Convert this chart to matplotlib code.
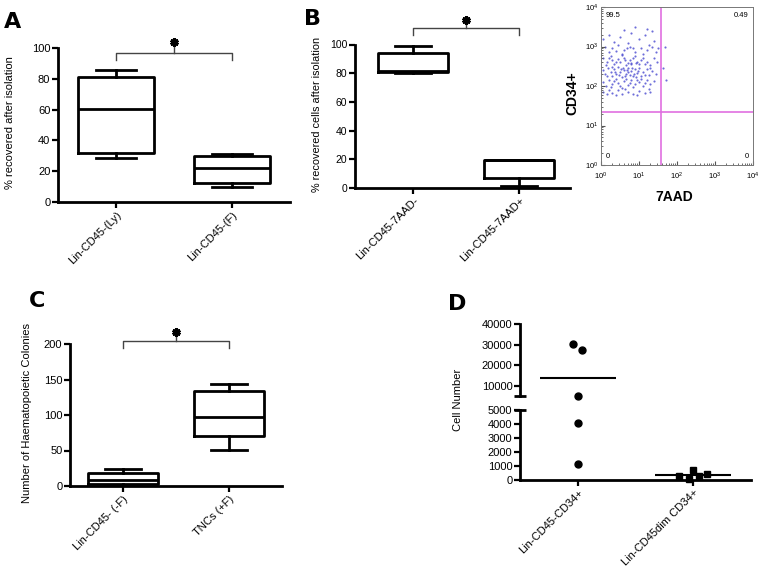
import numpy as np
import matplotlib
matplotlib.use("Agg")
import matplotlib.pyplot as plt

plt.rcParams['font.family'] = ['Liberation Sans', 'DejaVu Sans']

W, H = 762, 573

# panel A
a_labels = ["Lin-CD45-(Ly)", "Lin-CD45-(F)"]
a_whislo = [28.5, 10]
a_q1 = [32, 12.5]
a_med = [60.4, 22.3]
a_q3 = [81, 30]
a_whishi = [85.5, 31.4]

# panel B
b_labels = ["Lin-CD45-7AAD-", "Lin-CD45-7AAD+"]
b_whislo = [80, 1.4]
b_q1 = [81, 6.9]
b_med = [81.5, 19.3]
b_q3 = [94, 19.3]
b_whishi = [99, 19.5]

# panel C
c_labels = ["Lin-CD45- (-F)", "TNCs (+F)"]
c_whislo = [0, 51]
c_q1 = [2.4, 70.4]
c_med = [8, 96.7]
c_q3 = [18.7, 134]
c_whishi = [24, 143.7]

# panel D
d_labels = ["Lin-CD45-CD34+", "Lin-CD45dim CD34+"]
d1_vals = [30500, 27400, 5200, 4050, 1160]
d2_vals = [290, 710, 40, 270, 450]

# flow plot (log10 of 7AAD, log10 of CD34)
aad_log = [0.9, 1.2, 0.6, 1.35,
           0.2, 0.5, 0.8, 1.0, 1.15, 1.4, 0.35, 0.7, 1.25, 0.05,
           0.1, 0.3, 0.45, 0.6, 0.75, 0.9, 1.05, 1.2, 1.35, 1.45, 0.2, 0.55, 0.85, 1.1, 0.4, 0.68, 1.5,
           0.05, 0.15, 0.25, 0.35, 0.45, 0.5, 0.6, 0.65, 0.75, 0.8, 0.9, 0.95, 1.0, 1.1, 1.2, 1.3, 1.4,
           0.3, 0.55, 0.7, 0.85, 1.05, 0.12, 0.4, 0.62, 0.78, 0.92, 1.15, 1.48, 0.22,
           0.05, 0.1, 0.18, 0.25, 0.3, 0.35, 0.4, 0.45, 0.5, 0.55, 0.6, 0.65, 0.7, 0.75, 0.8, 0.85,
           0.9, 0.95, 1.0, 1.05, 1.1, 1.2, 1.25, 1.35, 1.45, 0.28, 0.48, 0.58, 0.72, 0.88, 0.98,
           0.15, 0.38, 0.62, 0.82, 1.15, 0.52, 0.68, 0.92, 1.3,
           0.05, 0.12, 0.2, 0.3, 0.4, 0.5, 0.6, 0.7, 0.8, 0.9, 1.0, 1.1, 1.2, 1.3, 1.4,
           0.25, 0.45, 0.65, 0.85, 1.05, 0.35, 0.75, 0.95, 0.55, 1.15,
           0.05, 0.15, 0.3, 0.45, 0.55, 0.7, 0.85, 1.0, 1.15, 1.3, 0.2, 0.62, 0.95, 1.25, 0.4,
           1.68, 1.72, 1.62]
cd34_log = [3.5, 3.45, 3.42, 3.38,
            3.3, 3.25, 3.35, 3.2, 3.3, 3.15, 3.12, 3.1, 3.05, 3.2,
            3.0, 2.95, 3.05, 2.9, 3.0, 2.85, 2.95, 2.9, 3.0, 2.85, 2.85, 2.82, 2.95, 2.82, 2.88, 2.97, 2.95,
            2.7, 2.6, 2.75, 2.55, 2.68, 2.6, 2.72, 2.52, 2.65, 2.58, 2.75, 2.62, 2.55, 2.7, 2.6, 2.52, 2.7,
            2.65, 2.78, 2.58, 2.7, 2.65, 2.52, 2.62, 2.66, 2.55, 2.58, 2.55, 2.6, 2.72,
            2.4, 2.3, 2.45, 2.35, 2.25, 2.42, 2.3, 2.48, 2.35, 2.22, 2.4, 2.3, 2.45, 2.28, 2.38, 2.25,
            2.42, 2.32, 2.45, 2.25, 2.35, 2.42, 2.28, 2.38, 2.3, 2.48, 2.28, 2.45, 2.35, 2.3, 2.38,
            2.25, 2.36, 2.26, 2.46, 2.28, 2.42, 2.4, 2.22, 2.45,
            2.1, 2.0, 2.15, 2.05, 2.18, 2.0, 2.12, 2.02, 2.15, 2.05, 2.1, 2.0, 2.15, 2.05, 2.12,
            1.98, 2.08, 2.18, 1.98, 2.18, 2.12, 2.08, 2.15, 1.96, 2.08,
            1.85, 1.8, 1.82, 1.9, 1.8, 1.85, 1.8, 1.88, 1.82, 1.85, 1.9, 1.92, 1.78, 1.92, 1.78,
            2.99, 2.15, 2.45]
gate_x = 38
gate_y = 22
quadrants = ["99.5", "0.49", "0", "0"]


def px_axes(l, t, r, b):
    return fig.add_axes([l / W, 1 - b / H, (r - l) / W, (b - t) / H])


def style(ax, fs=8):
    for s in ['top', 'right']:
        ax.spines[s].set_visible(False)
    for s in ['left', 'bottom']:
        ax.spines[s].set_linewidth(2)
    ax.tick_params(direction='out', length=4, width=1.6, labelsize=fs, pad=1.5)
    ax.set_facecolor('none')


def boxes(ax, labels, lo, q1, med, q3, hi):
    stats = [dict(whislo=lo[i], q1=q1[i], med=med[i], q3=q3[i], whishi=hi[i], fliers=[])
             for i in range(len(labels))]
    lp = dict(color='black', linewidth=2)
    ax.bxp(stats, positions=[1, 2], widths=0.66, capwidths=0.34, showfliers=False,
           boxprops=lp, whiskerprops=lp, capprops=lp, medianprops=lp)
    ax.set_xticks([1, 2])
    ax.set_xticklabels(labels, rotation=45, ha='right', rotation_mode='anchor', fontsize=8)


def bracket(ax, y, drop, ystar):
    ax.plot([1, 1, 2, 2], [y - drop, y, y, y - drop], color='#444444', lw=1, clip_on=False)
    ax.plot([1.5, 1.5], [y, ystar], color='#444444', lw=1, clip_on=False)
    ax.plot([1.5], [ystar], marker=(6, 2, 0), ms=6, mew=2.2, color='black', clip_on=False)


fig = plt.figure(figsize=(W / 100, H / 100), dpi=100)

# A
axA = px_axes(58, 48, 290, 202)
style(axA)
boxes(axA, a_labels, a_whislo, a_q1, a_med, a_q3, a_whishi)
axA.set_xlim(0.5, 2.5)
axA.set_ylim(0, 100)
axA.set_yticks([0, 20, 40, 60, 80, 100])
bracket(axA, 97, 5, 104)
fig.text(10 / W, 1 - 123 / H, "% recovered after isolation", rotation=90, fontsize=8,
         ha='center', va='center')

# B
axB = px_axes(355, 44.5, 570, 188)
style(axB, 7.5)
boxes(axB, b_labels, b_whislo, b_q1, b_med, b_q3, b_whishi)
axB.set_xlim(0.45, 2.48)
axB.set_ylim(0, 100)
axB.set_yticks([0, 20, 40, 60, 80, 100])
bracket(axB, 111.5, 5, 117)
fig.text(317 / W, 1 - 114 / H, "% recovered cells after isolation", rotation=90, fontsize=7.8,
         ha='center', va='center')

# flow plot
axF = px_axes(601, 7, 753, 165)
axF.scatter(np.power(10.0, aad_log), np.power(10.0, cd34_log), s=2.4, color='#4848d0',
            alpha=0.8, linewidths=0)
axF.set_xscale('log')
axF.set_yscale('log')
axF.set_xlim(1, 1e4)
axF.set_ylim(1, 1e4)
axF.axvline(gate_x, color='#e070e0', lw=1.2)
axF.axhline(gate_y, color='#e070e0', lw=1.2)
for s in axF.spines.values():
    s.set_linewidth(0.7)
    s.set_color('#777777')
axF.tick_params(which='both', direction='in', labelsize=5.5, color='#555555')
axF.tick_params(axis='x', pad=4)
axF.tick_params(axis='y', pad=2)
axF.tick_params(which='major', length=3)
axF.tick_params(which='minor', length=1.5)
fs_q = 5.5
axF.text(0.03, 0.97, quadrants[0], transform=axF.transAxes, fontsize=fs_q, va='top', ha='left')
axF.text(0.97, 0.97, quadrants[1], transform=axF.transAxes, fontsize=fs_q, va='top', ha='right')
axF.text(0.03, 0.03, quadrants[2], transform=axF.transAxes, fontsize=fs_q, va='bottom', ha='left')
axF.text(0.97, 0.03, quadrants[3], transform=axF.transAxes, fontsize=fs_q, va='bottom', ha='right')
fig.text(572 / W, 1 - 93 / H, "CD34+", rotation=90, fontsize=10, fontweight='bold',
         ha='center', va='center')
fig.text(674 / W, 1 - 197 / H, "7AAD", fontsize=10, fontweight='bold', ha='center', va='center')

# C
axC = px_axes(70, 344, 282, 486)
style(axC)
boxes(axC, c_labels, c_whislo, c_q1, c_med, c_q3, c_whishi)
axC.set_xlim(0.5, 2.5)
axC.set_ylim(0, 200)
axC.set_yticks([0, 50, 100, 150, 200])
bracket(axC, 204, 10, 217)
fig.text(27 / W, 1 - 413 / H, "Number of Haematopoietic Colonies", rotation=90, fontsize=8,
         ha='center', va='center')

# D (broken axis)
d_off1 = [-0.043, 0.034, 0, 0, 0]
d_off2 = [-0.12, 0, -0.037, 0.046, 0.12]
cut = 5000
axDt = px_axes(520, 324, 751, 396)
axDb = px_axes(520, 410, 751, 480)
style(axDt)
style(axDb)
axDt.spines['bottom'].set_visible(False)
axDt.tick_params(axis='x', bottom=False, labelbottom=False)
axDt.set_ylim(5200, 40000)
axDt.set_yticks([10000, 20000, 30000, 40000])
axDb.set_ylim(0, 5000)
axDb.set_yticks([0, 1000, 2000, 3000, 4000, 5000])
for ax in (axDt, axDb):
    ax.set_xlim(0.5, 2.5)
for pos, vals, offs, mk, ms in [(1, d1_vals, d_off1, 'o', 5), (2, d2_vals, d_off2, 's', 4.5)]:
    vals = np.array(vals)
    xs = pos + np.array(offs)
    hi = vals > cut
    axDt.plot(xs[hi], vals[hi], mk, color='black', ms=ms, clip_on=False)
    axDb.plot(xs[~hi], vals[~hi], mk, color='black', ms=ms, clip_on=False)
    m = vals.mean()
    target = axDt if m > cut else axDb
    target.hlines(m, pos - 0.33, pos + 0.33, color='black', lw=1.5)
axDb.set_xticks([1, 2])
axDb.set_xticklabels(d_labels, rotation=45, ha='right', rotation_mode='anchor', fontsize=8)
axDt.plot([0], [0], marker='_', ms=8, mew=2, color='black', transform=axDt.transAxes, clip_on=False)
axDb.plot([0], [1], marker='_', ms=8, mew=2, color='black', transform=axDb.transAxes, clip_on=False)
fig.text(458 / W, 1 - 400 / H, "Cell Number", rotation=90, fontsize=8, ha='center', va='center')

# panel letters
for letter, x, y in [("A", 4, 12), ("B", 304, 9), ("C", 29, 291), ("D", 448, 294)]:
    fig.text(x / W, 1 - y / H, letter, fontsize=16, fontweight='bold', ha='left', va='top',
             family='DejaVu Sans')

fig.savefig("out.png", dpi=100)
